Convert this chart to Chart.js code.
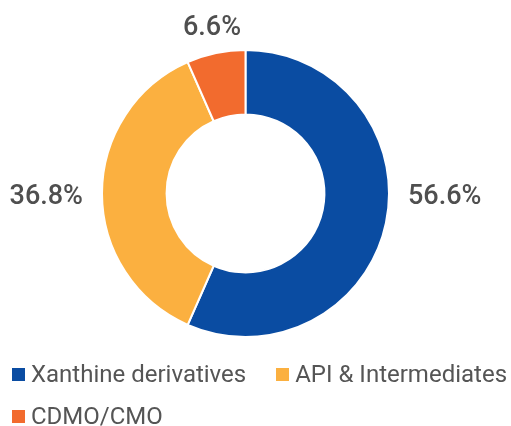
<!DOCTYPE html>
<html>
<head>
<meta charset="utf-8">
<script src="https://cdn.jsdelivr.net/npm/chart.js@4"></script>
<style>
  html, body { margin: 0; padding: 0; background: #ffffff; }
  #wrap { position: relative; width: 511px; height: 426px; overflow: hidden; }
  #c { position: absolute; left: 0; top: 0; }
  #legend { position: absolute; left: 12px; top: 353px; width: 505px; display: flex; flex-wrap: wrap; column-gap: 30px;
            font-family: Roboto, "Noto Sans", sans-serif; font-size: 24px; color: #555555; }
  .item { display: flex; align-items: center; height: 42px; white-space: nowrap; }
  .box { width: 13px; height: 13px; margin-right: 6px; flex: none; }
</style>
</head>
<body>
<div id="wrap">
  <canvas id="c" width="511" height="355"></canvas>
  <div id="legend"></div>
</div>
<script>
const categories = ["Xanthine derivatives", "API & Intermediates", "CDMO/CMO"];
const shares = [56.6, 36.8, 6.6];
const valueLabels = ["56.6%", "36.8%", "6.6%"];
const colors = ["#0A4CA2", "#FBB040", "#F26B2E"];

const outerLabels = {
  id: 'outerLabels',
  afterDatasetsDraw(chart) {
    const ctx = chart.ctx;
    const meta = chart.getDatasetMeta(0);
    ctx.save();
    ctx.font = '500 27px Roboto, "Noto Sans", sans-serif';
    ctx.fillStyle = '#4f4f4f';
    const gap = 19;
    meta.data.forEach((arc, i) => {
      const {x, y, startAngle, endAngle, outerRadius} = arc.getProps(['x','y','startAngle','endAngle','outerRadius'], true);
      const norm = a => { a = a % (2*Math.PI); return a < 0 ? a + 2*Math.PI : a; };
      const contains = a => {
        const s = norm(startAngle), span = endAngle - startAngle;
        return norm(a - s) <= span;
      };
      let ang;
      if (contains(0)) ang = 0;
      else if (contains(Math.PI)) ang = Math.PI;
      else ang = (startAngle + endAngle) / 2;
      const r = outerRadius + gap;
      const cx = Math.cos(ang), cy = Math.sin(ang);
      const px = x + cx * r, py = y + cy * r;
      const label = valueLabels[i];
      const w = ctx.measureText(label).width;
      const h = 19.5;
      let tx, ty;
      if (Math.abs(cx) >= Math.abs(cy)) {
        tx = cx > 0 ? px + w/2 : px - w/2;
        ty = py;
      } else {
        tx = px;
        ty = cy > 0 ? py + h/2 : py - h/2;
      }
      ctx.textAlign = 'center';
      ctx.textBaseline = 'alphabetic';
      ctx.fillText(label, tx, ty + h/2 + 0.5);
    });
    ctx.restore();
  }
};

new Chart(document.getElementById('c'), {
  type: 'doughnut',
  data: {
    labels: categories,
    datasets: [{
      data: shares,
      backgroundColor: colors,
      borderColor: '#ffffff',
      borderWidth: 2,
      hoverOffset: 0
    }]
  },
  options: {
    responsive: false,
    animation: false,
    cutout: '55%',
    layout: { padding: { top: 49, bottom: 17, left: 0, right: 20 } },
    plugins: {
      legend: { display: false },
      tooltip: { enabled: false }
    }
  },
  plugins: [outerLabels]
});

const leg = document.getElementById('legend');
categories.forEach((name, i) => {
  const it = document.createElement('div');
  it.className = 'item';
  const b = document.createElement('span');
  b.className = 'box';
  b.style.background = colors[i];
  const t = document.createElement('span');
  t.textContent = name;
  it.appendChild(b); it.appendChild(t);
  leg.appendChild(it);
});
</script>
</body>
</html>
